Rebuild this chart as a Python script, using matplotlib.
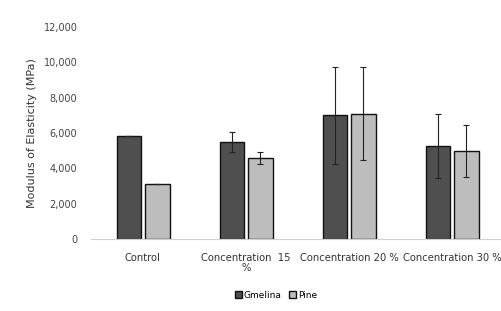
import matplotlib.pyplot as plt
import numpy as np

categories = ["Control", "Concentration  15\n%", "Concentration 20 %", "Concentration 30 %"]
gmelina = [5800, 5500, 7000, 5270]
gmelina_err = [0, 560, 2750, 1800]
pine = [3100, 4600, 7100, 4990]
pine_err = [0, 330, 2650, 1480]
yticks = [0, 2000, 4000, 6000, 8000, 10000, 12000]

fig = plt.figure(figsize=(5.02, 3.11), dpi=100)
ax = fig.add_axes([0.182, 0.2315, 0.821, 0.682])

x = np.arange(len(categories))
w = 0.24
err_kw = dict(ecolor="#222222", elinewidth=0.8, capsize=2.5, capthick=0.8)
ax.bar(x - 0.136, gmelina, w, yerr=gmelina_err, color="#4f4f4f",
       edgecolor="#111111", linewidth=1.0, label="Gmelina", error_kw=err_kw)
ax.bar(x + 0.14, pine, w, yerr=pine_err, color="#bdbdbd",
       edgecolor="#111111", linewidth=1.0, label="Pine", error_kw=err_kw)

ax.set_xlim(-0.5, 3.5)
ax.set_ylim(0, 12000)
ax.set_yticks(yticks)
ax.set_yticklabels([f"{v:,}" for v in yticks], fontsize=7, color="#444444")
ax.set_xticks(x)
ax.set_xticklabels(categories, fontsize=7.2, color="#333333", linespacing=1.0)
ax.tick_params(length=0)
ax.tick_params(axis="y", pad=10)
ax.tick_params(axis="x", pad=10)
for s in ["top", "right", "left"]:
    ax.spines[s].set_visible(False)
ax.spines["bottom"].set_color("#d0d0d0")
ax.set_ylabel("Modulus of Elasticity (MPa)", fontsize=8, color="#333333", labelpad=5)

fig.legend(loc="lower center", bbox_to_anchor=(0.55, 0.01), ncol=2, fontsize=6.5,
           frameon=False, handlelength=0.8, handleheight=0.8, handletextpad=0.2,
           columnspacing=0.8)

fig.savefig("out.png", dpi=100)
